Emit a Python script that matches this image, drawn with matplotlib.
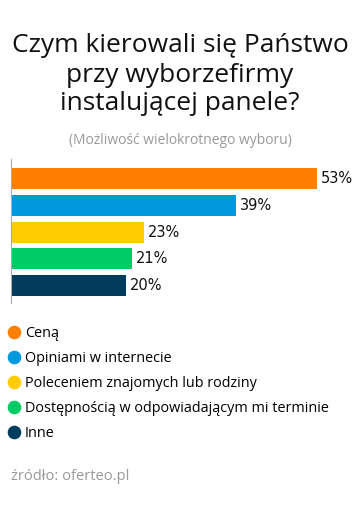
import matplotlib
matplotlib.use("Agg")
import matplotlib.pyplot as plt
from matplotlib.lines import Line2D

# Dane z wykresu
kategorie = ["Ceną", "Opiniami w internecie", "Poleceniem znajomych lub rodziny",
             "Dostępnością w odpowiadającym mi terminie", "Inne"]
wartosci = [53, 39, 23, 21, 20]
kolory = ["#FF8000", "#0099DD", "#FFCC00", "#00CC66", "#003D5C"]

plt.rcParams['font.family'] = ['Open Sans', 'DejaVu Sans']

W, H = 360, 518
fig = plt.figure(figsize=(W / 100, H / 100), dpi=100)
fig.patch.set_facecolor("white")

# Tytuł
fig.text(0.5, 1 - 45 / H, "Czym kierowali się Państwo", ha="center", va="center",
         fontsize=19, color="#111111")
fig.text(0.5, 1 - 75 / H, "przy wyborzefirmy", ha="center", va="center",
         fontsize=19, color="#111111")
fig.text(0.5, 1 - 104 / H, "instalującej panele?", ha="center", va="center",
         fontsize=19, color="#111111")
fig.text(0.5, 1 - 140 / H, "(Możliwość wielokrotnego wyboru)", ha="center", va="center",
         fontsize=10, color="#999999")

# Wykres słupkowy
ax = fig.add_axes([11 / W, 1 - 303 / H, 346 / W, 144 / H])
y = list(range(len(wartosci)))
ax.barh(y, wartosci, height=0.785, color=kolory)
ax.set_xlim(0, 60)
ax.set_ylim(4.65, -0.73)
for yi, v in zip(y, wartosci):
    ax.text(v + 0.7, yi, f"{v}%", va="center", ha="left", fontsize=10.5,
            color="#111111", family="DejaVu Sans")
for s in ["top", "right", "bottom"]:
    ax.spines[s].set_visible(False)
ax.spines["left"].set_color("#AAAAAA")
ax.spines["left"].set_linewidth(0.8)
ax.set_xticks([])
ax.set_yticks([])

# Legenda
uchwyty = [Line2D([], [], marker="o", linestyle="none", markersize=8.8,
                  markerfacecolor=k, markeredgecolor=k) for k in kolory]
fig.legend(uchwyty, kategorie, loc="upper left", bbox_to_anchor=(1 / W, 1 - 322 / H),
           frameon=False, fontsize=10.4, handletextpad=0.15, labelspacing=0.68,
           handlelength=1.2, borderaxespad=0, borderpad=0.3)

# Źródło
fig.text(11 / W, 1 - 476 / H, "źródło: oferteo.pl", ha="left", va="center",
         fontsize=10.5, color="#999999")

fig.savefig("out.png", dpi=100)
